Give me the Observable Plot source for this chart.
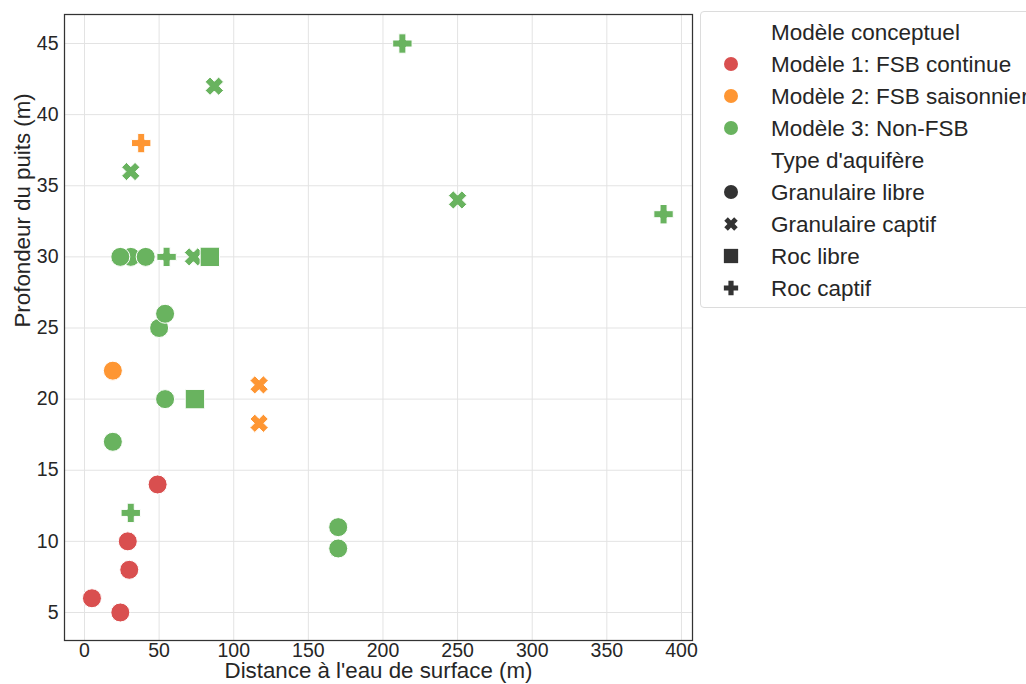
<!DOCTYPE html>
<html>
<head>
<meta charset="utf-8">
<script src="https://cdn.jsdelivr.net/npm/d3@7"></script>
<script src="https://cdn.jsdelivr.net/npm/@observablehq/plot@0.6"></script>
<style>
  html, body { margin: 0; padding: 0; background: #fff; }
  #wrap { position: relative; width: 1026px; height: 684px; overflow: hidden; font-family: "Liberation Sans", Arial, sans-serif; }
  #legend { position: absolute; left: 700px; top: 11px; width: 360px; height: 297px; border: 1px solid #dcdcdc; border-radius: 4px; background: #fff; box-sizing: border-box; }
</style>
</head>
<body>
<div id="wrap">
  <div id="chart"></div>
  <div id="legend"></div>
</div>
<script>
// ---- Data ----
const distance = [5, 24, 29, 30, 49, 19, 117, 117, 38, 213, 87, 31, 250, 388, 31, 24, 41, 55, 73, 84, 50, 54, 54, 74, 19, 31, 170, 170];
const depth    = [6, 5, 10, 8, 14, 22, 21, 18.3, 38, 45, 42, 36, 34, 33, 30, 30, 30, 30, 30, 30, 25, 26, 20, 20, 17, 12, 11, 9.5];
const model    = ["Modèle 1: FSB continue","Modèle 1: FSB continue","Modèle 1: FSB continue","Modèle 1: FSB continue","Modèle 1: FSB continue",
                  "Modèle 2: FSB saisonnier","Modèle 2: FSB saisonnier","Modèle 2: FSB saisonnier","Modèle 2: FSB saisonnier",
                  "Modèle 3: Non-FSB","Modèle 3: Non-FSB","Modèle 3: Non-FSB","Modèle 3: Non-FSB","Modèle 3: Non-FSB","Modèle 3: Non-FSB",
                  "Modèle 3: Non-FSB","Modèle 3: Non-FSB","Modèle 3: Non-FSB","Modèle 3: Non-FSB","Modèle 3: Non-FSB","Modèle 3: Non-FSB",
                  "Modèle 3: Non-FSB","Modèle 3: Non-FSB","Modèle 3: Non-FSB","Modèle 3: Non-FSB","Modèle 3: Non-FSB","Modèle 3: Non-FSB","Modèle 3: Non-FSB"];
const aquifer  = ["Granulaire libre","Granulaire libre","Granulaire libre","Granulaire libre","Granulaire libre",
                  "Granulaire libre","Granulaire captif","Granulaire captif","Roc captif",
                  "Roc captif","Granulaire captif","Granulaire captif","Granulaire captif","Roc captif","Granulaire libre",
                  "Granulaire libre","Granulaire libre","Roc captif","Granulaire captif","Roc libre","Granulaire libre",
                  "Granulaire libre","Granulaire libre","Roc libre","Granulaire libre","Roc captif","Granulaire libre","Granulaire libre"];

const modelNames = ["Modèle 1: FSB continue", "Modèle 2: FSB saisonnier", "Modèle 3: Non-FSB"];
const modelColors = ["#d94f4f", "#fe9633", "#69b35f"];
const aquiferNames = ["Granulaire libre", "Granulaire captif", "Roc libre", "Roc captif"];
const xTicks = [0, 50, 100, 150, 200, 250, 300, 350, 400];
const yTicks = [5, 10, 15, 20, 25, 30, 35, 40, 45];

const rows = distance.map((d, i) => ({distance: d, depth: depth[i], model: model[i], aquifer: aquifer[i]}));

// ---- Custom symbols (seaborn-like filled markers) ----
function plusPts(L, w) {
  return [[-w,-L],[w,-L],[w,-w],[L,-w],[L,w],[w,w],[w,L],[-w,L],[-w,w],[-L,w],[-L,-w],[-w,-w]];
}
function drawPoly(ctx, pts) {
  ctx.moveTo(pts[0][0], pts[0][1]);
  for (let i = 1; i < pts.length; i++) ctx.lineTo(pts[i][0], pts[i][1]);
  ctx.closePath();
}
const symCircle = {draw(ctx, size) { const r = Math.sqrt(size / Math.PI); ctx.moveTo(r, 0); ctx.arc(0, 0, r, 0, 2 * Math.PI); }};
const symSquare = {draw(ctx, size) { const r = Math.sqrt(size / Math.PI) * 1.02; ctx.rect(-r, -r, 2 * r, 2 * r); }};
const symPlus = {draw(ctx, size) { const r = Math.sqrt(size / Math.PI); drawPoly(ctx, plusPts(1.02 * r, 0.37 * r)); }};
const symX = {draw(ctx, size) {
  const r = Math.sqrt(size / Math.PI);
  const c = Math.SQRT1_2;
  const pts = plusPts(1.0 * r, 0.36 * r).map(([x, y]) => [c * (x - y), c * (x + y)]);
  drawPoly(ctx, pts);
}};
const aquiferSymbols = [symCircle, symX, symSquare, symPlus];

// ---- Chart ----
const chart = Plot.plot({
  width: 1026,
  height: 684,
  marginLeft: 64,
  marginRight: 334,
  marginTop: 14,
  marginBottom: 44,
  style: {fontFamily: "'Liberation Sans', Arial, sans-serif", fontSize: "19.5px", color: "#262626", background: "#fff"},
  x: {domain: [-13.4, 407.4], ticks: xTicks, label: null},
  y: {domain: [3.03, 47.04], ticks: yTicks, label: null},
  color: {domain: modelNames, range: modelColors},
  symbol: {domain: aquiferNames, range: aquiferSymbols},
  marks: [
    Plot.gridX(xTicks, {stroke: "#e3e3e3", strokeOpacity: 1, strokeWidth: 1}),
    Plot.gridY(yTicks, {stroke: "#e3e3e3", strokeOpacity: 1, strokeWidth: 1}),
    Plot.axisX(xTicks, {tickSize: 0, tickPadding: 3, fontSize: 19.5, fill: "#262626", label: null}),
    Plot.axisY(yTicks, {tickSize: 0, tickPadding: 6, fontSize: 19.5, fill: "#262626", label: null}),
    Plot.dot(rows, {x: "distance", y: "depth", fill: "model", symbol: "aquifer", r: 9.5, stroke: "#fff", strokeWidth: 1}),
    Plot.frame({stroke: "#333", strokeWidth: 1.25}),
    Plot.text(["Distance à l'eau de surface (m)"], {frameAnchor: "bottom", dy: 37, fontSize: 22.3, fill: "#262626", text: d => d}),
    Plot.text(["Profondeur du puits (m)"], {frameAnchor: "left", dx: -42, rotate: -90, fontSize: 22.3, fill: "#262626", text: d => d})
  ]
});
document.getElementById("chart").appendChild(chart);

// ---- Legend ----
const lg = d3.select("#legend").append("svg").attr("width", 360).attr("height", 295)
  .style("font-family", "'Liberation Sans', Arial, sans-serif");
const legendItems = [
  {label: "Modèle conceptuel", sym: null},
  ...modelNames.map((m, i) => ({label: m, sym: symCircle, color: modelColors[i]})),
  {label: "Type d'aquifère", sym: null},
  ...aquiferNames.map((a, i) => ({label: a, sym: aquiferSymbols[i], color: "#333333"}))
];
legendItems.forEach((it, i) => {
  const cy = 20 + i * 32;
  if (it.sym) {
    lg.append("path")
      .attr("transform", `translate(30,${cy})`)
      .attr("d", d3.symbol(it.sym, Math.PI * 7 * 7)())
      .attr("fill", it.color);
  }
  lg.append("text").attr("x", 70).attr("y", cy).attr("dy", "0.35em")
    .attr("font-size", 22.5).attr("fill", "#262626").text(it.label);
});
</script>
</body>
</html>
